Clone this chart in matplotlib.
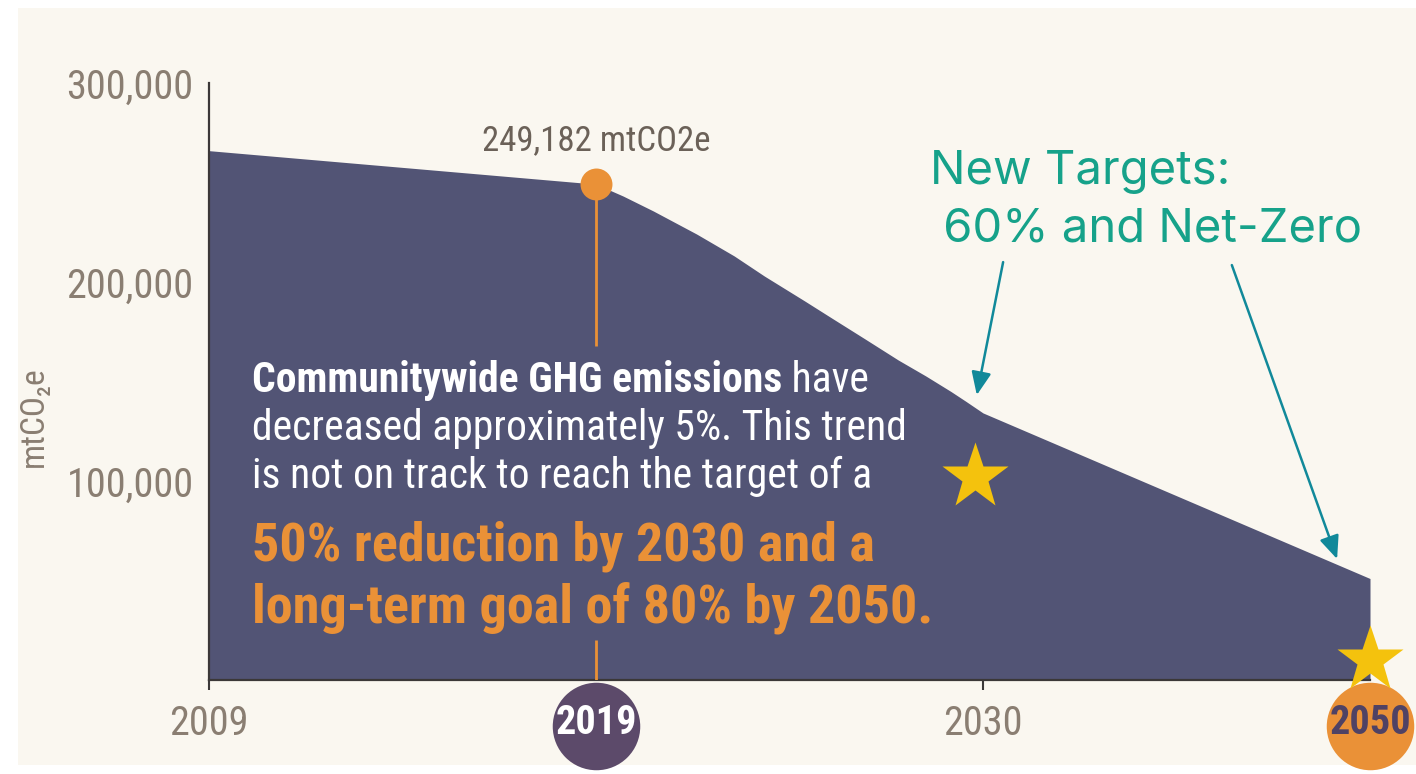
import matplotlib
matplotlib.use("Agg")
import matplotlib.pyplot as plt
from matplotlib import font_manager
from matplotlib.patches import Rectangle
from matplotlib.transforms import ScaledTranslation

# ------------------------------- data -------------------------------#
year_labels = ["2009", "2019", "2030", "2050"]
year_pos = [0, 1, 2, 3]

# emissions curve (mtCO2e), position on the year axis
curve_pos = [0, 1, 1.070, 1.148, 1.260, 1.357, 1.435, 1.539, 1.609, 1.695,
             1.781, 1.852, 1.917, 1.956, 2, 3]
curve_val = [266000, 249182, 243200, 235700, 224100, 213100, 203000, 190500, 181900, 171400,
             160800, 152800, 145000, 140000, 134200, 51000]

baseline_pos = 1
baseline_val = 249182
stem_gap = (168000, 20000)   # where the stem is hidden behind the text block

target_pos = [1.98, 3]
target_val = [102000, 10000]

y_ticks = [100000, 200000, 300000]

# ------------------------------- style ------------------------------#
BG = "#faf7f0"
AREA = "#525475"
AXIS = "#3b3838"
TICK = "#8a7e72"
LABEL = "#6b6158"
ORANGE = "#ea9137"
PURPLE = "#5c4a6a"
DARK_PURPLE = "#4f4264"
STAR = "#f4c20d"
TEAL = "#16a28a"
TEAL_ARROW = "#11899a"

names = {f.name for f in font_manager.fontManager.ttflist}
COND = next((n for n in ["Roboto Condensed", "Liberation Sans Narrow", "DejaVu Sans"] if n in names), "DejaVu Sans")
SANS = next((n for n in ["Inter", "Noto Sans", "DejaVu Sans"] if n in names), "DejaVu Sans")

W, H = 1416, 774


def fx(x):
    return x / W


def fy(y):
    return 1 - y / H


fig = plt.figure(figsize=(W / 100, H / 100), dpi=100, facecolor="white")
fig.patches.append(Rectangle((fx(18), fy(765)), 1 - fx(18), fy(8) - fy(765),
                             transform=fig.transFigure, facecolor=BG, edgecolor="none", zorder=-10))

ax = fig.add_axes([fx(209), fy(680), fx(1370) - fx(209), fy(83) - fy(680)])
ax.set_facecolor("none")
ax.set_xlim(0, 3)
ax.set_ylim(0, 300000)

# area
ax.fill_between(curve_pos, curve_val, 0, color=AREA, lw=0, zorder=1)

# 2019 stem + marker + label
ax.plot([baseline_pos, baseline_pos], [baseline_val, stem_gap[0]], color=ORANGE, lw=2, zorder=3, solid_capstyle="butt")
ax.plot([baseline_pos, baseline_pos], [stem_gap[1], 0], color=ORANGE, lw=2, zorder=3, solid_capstyle="butt")
ax.plot(baseline_pos, baseline_val, "o", ms=23, color=ORANGE, mec="none", zorder=4, clip_on=False)
ax.annotate(f"{baseline_val:,} mtCO2e", xy=(baseline_pos, baseline_val), xytext=(0, 31),
            textcoords="offset points", ha="center", va="center", fontsize=25,
            color=LABEL, family=COND)

# target stars
ax.plot(target_pos, target_val, "*", ms=50, color=STAR, mec="none", zorder=6, clip_on=False)

# axes styling
for s in ["top", "right"]:
    ax.spines[s].set_visible(False)
for s in ["left", "bottom"]:
    ax.spines[s].set_color(AXIS)
    ax.spines[s].set_linewidth(1.6)
    ax.spines[s].set_zorder(2.5)

ax.set_yticks(y_ticks)
ax.set_yticklabels([f"{v:,}" for v in y_ticks])
ax.tick_params(axis="y", length=0, pad=11, labelsize=29, labelcolor=TICK)
ax.set_xticks(year_pos)
ax.set_xticklabels(year_labels)
ax.tick_params(axis="x", length=7, width=1.5, color=AXIS, pad=10, labelsize=29, labelcolor=TICK)
for lab in ax.get_xticklabels() + ax.get_yticklabels():
    lab.set_family(COND)

# highlighted years on circles
ticks = ax.xaxis.get_major_ticks()
circle_colors = {1: (PURPLE, "white"), 3: (ORANGE, DARK_PURPLE)}
for i, (fc, tc) in circle_colors.items():
    ticks[i].tick1line.set_visible(False)
    lab = ax.get_xticklabels()[i]
    lab.set_color(tc)
    lab.set_fontweight("bold")
    ax.plot(year_pos[i], 0, "o", ms=63, color=fc, mec="none", zorder=1.2, clip_on=False,
            transform=ax.transData + ScaledTranslation(0, -46 / 100, fig.dpi_scale_trans))

fig.text(fx(34), fy(417), "mtCO₂e", rotation=90, ha="center", va="center", fontsize=24,
         color=TICK, family=[COND, "DejaVu Sans"])

# text block
t1 = fig.text(fx(252), fy(392), "Communitywide GHG emissions", fontsize=30, fontweight="bold",
              color="white", family=COND, va="baseline")
fig.canvas.draw()
bb = t1.get_window_extent()
fig.text(bb.x1 / W, fy(392), " have", fontsize=30, color="white", family=COND, va="baseline")
fig.text(fx(252), fy(440), "decreased approximately 5%. This trend", fontsize=30, color="white",
         family=COND, va="baseline")
fig.text(fx(252), fy(488), "is not on track to reach the target of a", fontsize=30, color="white",
         family=COND, va="baseline")
fig.text(fx(252), fy(560), "50% reduction by 2030 and a", fontsize=39, fontweight="bold",
         color=ORANGE, family=COND, va="baseline")
fig.text(fx(252), fy(623), "long-term goal of 80% by 2050.", fontsize=39, fontweight="bold",
         color=ORANGE, family=COND, va="baseline")

# new targets callout
fig.text(fx(930), fy(184), "New Targets:", fontsize=34, color=TEAL, family=SANS, va="baseline")
fig.text(fx(930), fy(241), " 60% and Net-Zero", fontsize=34, color=TEAL, family=SANS, va="baseline")
arrow = dict(arrowstyle="-|>,head_length=0.7,head_width=0.3", color=TEAL_ARROW, lw=1.8,
             mutation_scale=20, shrinkA=0, shrinkB=0)
ax.annotate("", xy=(1.984, 143200), xytext=(2.052, 210000), arrowprops=arrow, annotation_clip=False)
ax.annotate("", xy=(2.915, 60800), xytext=(2.643, 208500), arrowprops=arrow, annotation_clip=False)

fig.savefig("out.png", dpi=100, facecolor="white")
